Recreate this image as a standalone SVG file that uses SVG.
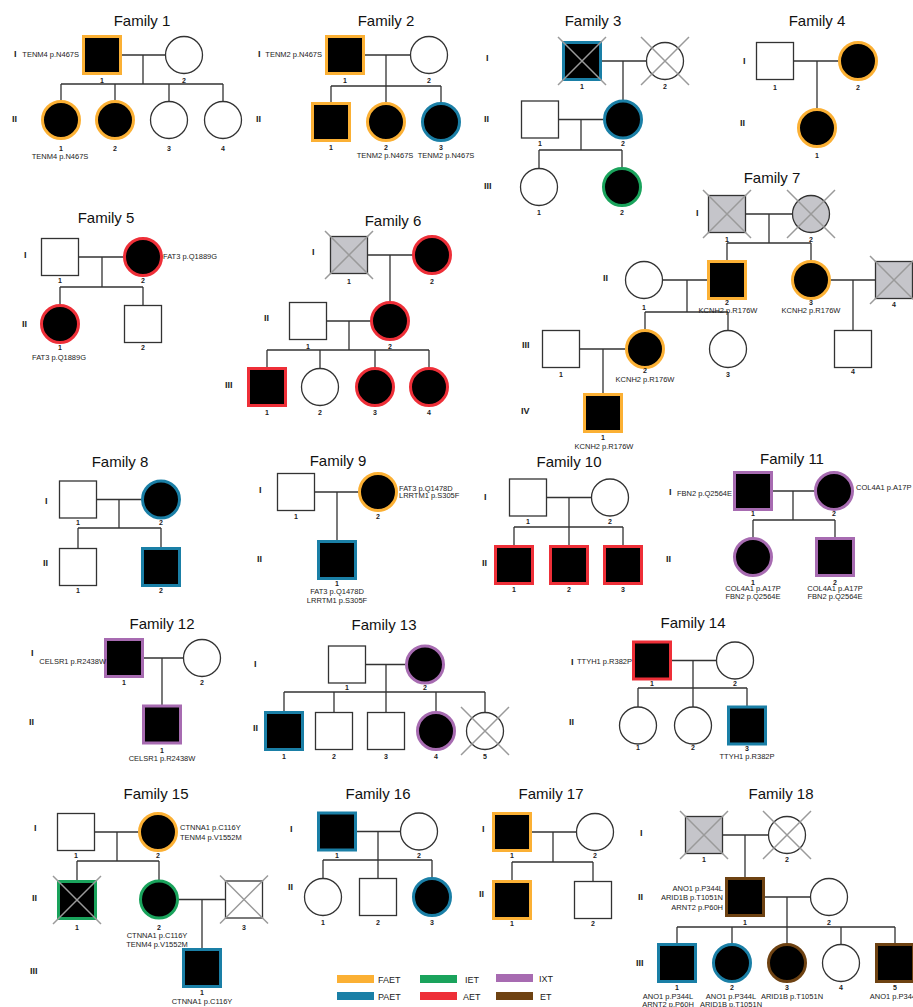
<svg xmlns="http://www.w3.org/2000/svg" xmlns:xlink="http://www.w3.org/1999/xlink" width="913" height="1007" viewBox="0 0 913 1007">
<style>
.ln{fill:none;stroke:#333;stroke-width:1.3}
.u{fill:#fff;stroke:#333;stroke-width:1.3}
.d{fill:#c5c5ca;stroke:#333;stroke-width:1.3}
.a{fill:#000;stroke-width:3}
.faet{stroke:#fbb034}.paet{stroke:#1a7fa6}.iet{stroke:#1aa35c}.aet{stroke:#ee2f38}.ixt{stroke:#a76bb1}.et{stroke:#6e4212}
.xm{stroke:#9a9a9a;stroke-width:1.5;fill:none}
text{font-family:"Liberation Sans",Arial,Helvetica,sans-serif;fill:#222}
.t{font-size:15px;text-anchor:middle;fill:#111}
.g{font-size:9px;font-weight:bold}
.n{font-size:7px;font-weight:bold;text-anchor:middle}
.m{font-size:7.5px}
.c{text-anchor:middle}
.e{text-anchor:end}
.lg{font-size:9px}
</style>
<defs>
<path id="xm" class="xm" d="M-24,-24L24,24M24,-24L-24,24"/>
</defs>
<rect width="913" height="1007" fill="#fff"/>

<!-- titles and generation labels -->
<g id="titles">
<text class="t" x="142" y="26">Family 1</text>
<text class="t" x="386" y="26">Family 2</text>
<text class="t" x="593" y="26">Family 3</text>
<text class="t" x="817" y="26">Family 4</text>
<text class="t" x="106" y="223">Family 5</text>
<text class="t" x="393" y="226">Family 6</text>
<text class="t" x="772" y="183">Family 7</text>
<text class="t" x="120" y="467">Family 8</text>
<text class="t" x="338" y="466">Family 9</text>
<text class="t" x="569" y="467">Family 10</text>
<text class="t" x="792" y="464">Family 11</text>
<text class="t" x="162" y="629">Family 12</text>
<text class="t" x="384" y="630">Family 13</text>
<text class="t" x="693" y="628">Family 14</text>
<text class="t" x="156" y="799">Family 15</text>
<text class="t" x="378" y="799">Family 16</text>
<text class="t" x="551" y="799">Family 17</text>
<text class="t" x="781" y="799">Family 18</text>
</g>
<g id="generations">
<text class="g" x="14" y="57">I</text><text class="g" x="12" y="122">II</text>
<text class="g" x="258" y="57">I</text><text class="g" x="256" y="122">II</text>
<text class="g" x="486" y="61">I</text><text class="g" x="484" y="122">II</text><text class="g" x="484" y="189">III</text>
<text class="g" x="743" y="64">I</text><text class="g" x="740" y="126">II</text>
<text class="g" x="24" y="258">I</text><text class="g" x="22" y="327">II</text>
<text class="g" x="312" y="255">I</text><text class="g" x="264" y="321">II</text><text class="g" x="225" y="388">III</text>
<text class="g" x="696" y="216">I</text><text class="g" x="603" y="281">II</text><text class="g" x="522" y="348">III</text><text class="g" x="521" y="414">IV</text>
<text class="g" x="45" y="504">I</text><text class="g" x="43" y="566">II</text>
<text class="g" x="259" y="493">I</text><text class="g" x="257" y="562">II</text>
<text class="g" x="484" y="500">I</text><text class="g" x="482" y="566">II</text>
<text class="g" x="669" y="495">I</text><text class="g" x="666" y="562">II</text>
<text class="g" x="31" y="656">I</text><text class="g" x="29" y="725">II</text>
<text class="g" x="254" y="667">I</text><text class="g" x="253" y="731">II</text>
<text class="g" x="571" y="665">I</text><text class="g" x="569" y="725">II</text>
<text class="g" x="34" y="831">I</text><text class="g" x="32" y="901">II</text><text class="g" x="30" y="974">III</text>
<text class="g" x="290" y="832">I</text><text class="g" x="288" y="890">II</text>
<text class="g" x="482" y="832">I</text><text class="g" x="479" y="897">II</text>
<text class="g" x="640" y="836">I</text><text class="g" x="638" y="900">II</text><text class="g" x="636" y="966">III</text>
</g>

<!-- connectors: marriage lines, descent lines, sibship lines -->
<g id="connectors" class="ln">
<path d="M121,55H165.5M143,55V84M61,84H223M61,84V101.5M115,84V101.5M169,84V101.5M223,84V101.5"/>
<path d="M363.5,55H410.5M386,55V86M331,86H441M331,86V103.5M386,86V103.5M441,86V103.5"/>
<path d="M600.5,61H646.5M623,61V101M558.5,119.5H604.5M581,119.5V150M539,150H622M539,150V168.5M622,150V168.5"/>
<path d="M793.5,61H839.5M817,61V109.5"/>
<path d="M78.5,257H124.5M102,257V287M60,287H143M60,287V305.5M143,287V305.5"/>
<path d="M367.5,255H413.5M390,255V302.5M326.5,321H371.5M349,321V350M267,350H429M267,350V368.5M320,350V368.5M375,350V368.5M429,350V368.5"/>
<path d="M745.5,214H792.5M769,214V243M727,243H811M727,243V261.5M811,243V261.5M662.5,280H708.5M687,280V312M645,312H728M645,312V330.5M728,312V330.5M829.5,280H875.5M853,280V330.5M579.5,349H626.5M603,349V394.5"/>
<path d="M96.5,499.5H142.5M119,499.5V528M78,528H161M78,528V548.5M161,528V548.5"/>
<path d="M314.5,492H359.5M337,492V541.5"/>
<path d="M546.5,497.5H591.5M569,497.5V527M514,527H623M514,527V546.5M569,527V546.5M623,527V546.5"/>
<path d="M771.5,491H815.5M793,491V520M753,520H835M753,520V538.5M835,520V538.5"/>
<path d="M142.5,658H183.5M162,658V706"/>
<path d="M365.5,664.5H406.5M386,664.5V692M284,692H485M284,692V712.5M334,692V712.5M386,692V712.5M436,692V712.5M485,692V712.5"/>
<path d="M670.5,660.5H716.5M693,660.5V688M638,688H747M638,688V707M693,688V707M747,688V707"/>
<path d="M94.5,832H139.5M117,832V861M77,861H159M77,861V881.5M159,861V880.5M177.5,899.5H225.5M202,899.5V949.5"/>
<path d="M355.5,831.5H400.5M378,831.5V860M323,860H432M323,860V878.5M378,860V878.5M432,860V878.5"/>
<path d="M530.5,832H576.5M553,832V862M512,862H593M512,862V881.5M593,862V881.5"/>
<path d="M722.5,835H768.5M745,835V878.5M763.5,897H810.5M787,897V927M677,927H895M677,927V944.5M732,927V944.5M787,927V944.5M841,927V944.5M895,927V944.5"/>
</g>

<!-- Family 1 -->
<g id="f1-I-1"><rect class="a faet" x="83.5" y="36.5" width="37" height="37"/><text class="n" x="102" y="82.5">1</text><text class="m e" x="79" y="57">TENM4 p.N467S</text></g>
<g id="f1-I-2"><circle class="u" cx="184" cy="55" r="18.5"/><text class="n" x="184" y="82.5">2</text></g>
<g id="f1-II-1"><circle class="a faet" cx="61" cy="120" r="18.5"/><text class="n" x="61" y="150.5">1</text><text class="m c" x="60" y="158.5">TENM4 p.N467S</text></g>
<g id="f1-II-2"><circle class="a faet" cx="115" cy="120" r="18.5"/><text class="n" x="115" y="150.5">2</text></g>
<g id="f1-II-3"><circle class="u" cx="169" cy="120" r="18.5"/><text class="n" x="169" y="150.5">3</text></g>
<g id="f1-II-4"><circle class="u" cx="223" cy="120" r="18.5"/><text class="n" x="223" y="150.5">4</text></g>

<!-- Family 2 -->
<g id="f2-I-1"><rect class="a faet" x="326.5" y="36.5" width="37" height="37"/><text class="n" x="345" y="82.5">1</text><text class="m e" x="322" y="57">TENM2 p.N467S</text></g>
<g id="f2-I-2"><circle class="u" cx="429" cy="55" r="18.5"/><text class="n" x="429" y="82.5">2</text></g>
<g id="f2-II-1"><rect class="a faet" x="312.5" y="103.5" width="37" height="37"/><text class="n" x="331" y="149.5">1</text></g>
<g id="f2-II-2"><circle class="a faet" cx="386" cy="122" r="18.5"/><text class="n" x="386" y="149.5">2</text><text class="m c" x="385" y="157.5">TENM2 p.N467S</text></g>
<g id="f2-II-3"><circle class="a paet" cx="441" cy="122" r="18.5"/><text class="n" x="441" y="149.5">3</text><text class="m c" x="446" y="157.5">TENM2 p.N467S</text></g>

<!-- Family 3 -->
<g id="f3-I-1"><rect class="a paet" x="563.5" y="42.5" width="37" height="37"/><use xlink:href="#xm" x="582" y="61"/><text class="n" x="582" y="88.5">1</text></g>
<g id="f3-I-2"><circle class="u" cx="665" cy="61" r="18.5"/><use xlink:href="#xm" x="665" y="61"/><text class="n" x="665" y="88.5">2</text></g>
<g id="f3-II-1"><rect class="u" x="521.5" y="101" width="37" height="37"/><text class="n" x="540" y="145.5">1</text></g>
<g id="f3-II-2"><circle class="a paet" cx="623" cy="119.5" r="18.5"/><text class="n" x="623" y="145.5">2</text></g>
<g id="f3-III-1"><circle class="u" cx="539" cy="187" r="18.5"/><text class="n" x="539" y="215">1</text></g>
<g id="f3-III-2"><circle class="a iet" cx="622" cy="187" r="18.5"/><text class="n" x="622" y="215">2</text></g>

<!-- Family 4 -->
<g id="f4-I-1"><rect class="u" x="756.5" y="42.5" width="37" height="37"/><text class="n" x="775" y="89.5">1</text></g>
<g id="f4-I-2"><circle class="a faet" cx="858" cy="61" r="18.5"/><text class="n" x="858" y="89.5">2</text></g>
<g id="f4-II-1"><circle class="a faet" cx="817" cy="128" r="18.5"/><text class="n" x="817" y="157.5">1</text></g>

<!-- Family 5 -->
<g id="f5-I-1"><rect class="u" x="41.5" y="238.5" width="37" height="37"/><text class="n" x="60" y="282.5">1</text></g>
<g id="f5-I-2"><circle class="a aet" cx="143" cy="257" r="18.5"/><text class="n" x="143" y="282.5">2</text><text class="m" x="163" y="258.5">FAT3 p.Q1889G</text></g>
<g id="f5-II-1"><circle class="a aet" cx="60" cy="324" r="18.5"/><text class="n" x="60" y="349.5">1</text><text class="m c" x="59" y="359.5">FAT3 p.Q1889G</text></g>
<g id="f5-II-2"><rect class="u" x="124.5" y="305.5" width="37" height="37"/><text class="n" x="143" y="349.5">2</text></g>

<!-- Family 6 -->
<g id="f6-I-1"><rect class="d" x="330.5" y="236.5" width="37" height="37"/><use xlink:href="#xm" x="349" y="255"/><text class="n" x="349" y="283.5">1</text></g>
<g id="f6-I-2"><circle class="a aet" cx="432" cy="255" r="18.5"/><text class="n" x="432" y="283.5">2</text></g>
<g id="f6-II-1"><rect class="u" x="289.5" y="302.5" width="37" height="37"/><text class="n" x="308" y="348.5">1</text></g>
<g id="f6-II-2"><circle class="a aet" cx="390" cy="321" r="18.5"/><text class="n" x="390" y="348.5">2</text></g>
<g id="f6-III-1"><rect class="a aet" x="248.5" y="368.5" width="37" height="37"/><text class="n" x="267" y="414.5">1</text></g>
<g id="f6-III-2"><circle class="u" cx="320" cy="387" r="18.5"/><text class="n" x="320" y="414.5">2</text></g>
<g id="f6-III-3"><circle class="a aet" cx="375" cy="387" r="18.5"/><text class="n" x="375" y="414.5">3</text></g>
<g id="f6-III-4"><circle class="a aet" cx="429" cy="387" r="18.5"/><text class="n" x="429" y="414.5">4</text></g>

<!-- Family 7 -->
<g id="f7-I-1"><rect class="d" x="708.5" y="195.5" width="37" height="37"/><use xlink:href="#xm" x="727" y="214"/><text class="n" x="727" y="241.5">1</text></g>
<g id="f7-I-2"><circle class="d" cx="811" cy="214" r="18.5"/><use xlink:href="#xm" x="811" y="214"/><text class="n" x="811" y="241.5">2</text></g>
<g id="f7-II-1"><circle class="u" cx="644" cy="280" r="18.5"/><text class="n" x="644" y="309.5">1</text></g>
<g id="f7-II-2"><rect class="a faet" x="708.5" y="261.5" width="37" height="37"/><text class="n" x="727" y="305">2</text><text class="m c" x="728" y="312.5">KCNH2 p.R176W</text></g>
<g id="f7-II-3"><circle class="a faet" cx="811" cy="280" r="18.5"/><text class="n" x="811" y="305">3</text><text class="m c" x="811" y="312.5">KCNH2 p.R176W</text></g>
<g id="f7-II-4"><rect class="d" x="875.5" y="261.5" width="37" height="37"/><use xlink:href="#xm" x="894" y="280"/><text class="n" x="894" y="306.5">4</text></g>
<g id="f7-III-1"><rect class="u" x="542.5" y="330.5" width="37" height="37"/><text class="n" x="561" y="376.5">1</text></g>
<g id="f7-III-2"><circle class="a faet" cx="645" cy="349" r="18.5"/><text class="n" x="645" y="372.5">2</text><text class="m c" x="645" y="381.5">KCNH2 p.R176W</text></g>
<g id="f7-III-3"><circle class="u" cx="728" cy="349" r="18.5"/><text class="n" x="728" y="376.5">3</text></g>
<g id="f7-III-4"><rect class="u" x="834.5" y="330.5" width="37" height="37"/><text class="n" x="853" y="373.5">4</text></g>
<g id="f7-IV-1"><rect class="a faet" x="584.5" y="394.5" width="37" height="37"/><text class="n" x="603" y="439.5">1</text><text class="m c" x="604" y="448.5">KCNH2 p.R176W</text></g>

<!-- Family 8 -->
<g id="f8-I-1"><rect class="u" x="59.5" y="481" width="37" height="37"/><text class="n" x="78" y="524.5">1</text></g>
<g id="f8-I-2"><circle class="a paet" cx="161" cy="499.5" r="18.5"/><text class="n" x="161" y="524.5">2</text></g>
<g id="f8-II-1"><rect class="u" x="59.5" y="548.5" width="37" height="37"/><text class="n" x="78" y="592.5">1</text></g>
<g id="f8-II-2"><rect class="a paet" x="142.5" y="548.5" width="37" height="37"/><text class="n" x="161" y="592.5">2</text></g>

<!-- Family 9 -->
<g id="f9-I-1"><rect class="u" x="277.5" y="473.5" width="37" height="37"/><text class="n" x="296" y="518.5">1</text></g>
<g id="f9-I-2"><circle class="a faet" cx="378" cy="492" r="18.5"/><text class="n" x="378" y="518.5">2</text><text class="m" x="399" y="490.5">FAT3 p.Q1478D</text><text class="m" x="399" y="498">LRRTM1 p.S305F</text></g>
<g id="f9-II-1"><rect class="a paet" x="318.5" y="541.5" width="37" height="37"/><text class="n" x="337" y="585.5">1</text><text class="m c" x="337" y="593.5">FAT3 p.Q1478D</text><text class="m c" x="337" y="602.5">LRRTM1 p.S305F</text></g>

<!-- Family 10 -->
<g id="f10-I-1"><rect class="u" x="509.5" y="479" width="37" height="37"/><text class="n" x="528" y="523.5">1</text></g>
<g id="f10-I-2"><circle class="u" cx="610" cy="497.5" r="18.5"/><text class="n" x="610" y="523.5">2</text></g>
<g id="f10-II-1"><rect class="a aet" x="495.5" y="546.5" width="37" height="37"/><text class="n" x="514" y="591.5">1</text></g>
<g id="f10-II-2"><rect class="a aet" x="550.5" y="546.5" width="37" height="37"/><text class="n" x="569" y="591.5">2</text></g>
<g id="f10-II-3"><rect class="a aet" x="604.5" y="546.5" width="37" height="37"/><text class="n" x="623" y="591.5">3</text></g>

<!-- Family 11 -->
<g id="f11-I-1"><rect class="a ixt" x="734.5" y="472.5" width="37" height="37"/><text class="n" x="753" y="515.5">1</text><text class="m e" x="732" y="495.5">FBN2 p.Q2564E</text></g>
<g id="f11-I-2"><circle class="a ixt" cx="834" cy="491" r="18.5"/><text class="n" x="834" y="515.5">2</text><text class="m" x="856" y="489.5">COL4A1 p.A17P</text></g>
<g id="f11-II-1"><circle class="a ixt" cx="753" cy="557" r="18.5"/><text class="n" x="753" y="584.5">1</text><text class="m c" x="753" y="590.5">COL4A1 p.A17P</text><text class="m c" x="753" y="598.5">FBN2 p.Q2564E</text></g>
<g id="f11-II-2"><rect class="a ixt" x="816.5" y="538.5" width="37" height="37"/><text class="n" x="835" y="584.5">2</text><text class="m c" x="835" y="590.5">COL4A1 p.A17P</text><text class="m c" x="835" y="598.5">FBN2 p.Q2564E</text></g>

<!-- Family 12 -->
<g id="f12-I-1"><rect class="a ixt" x="105.5" y="639.5" width="37" height="37"/><text class="n" x="124" y="684.5">1</text><text class="m e" x="106" y="663.5">CELSR1 p.R2438W</text></g>
<g id="f12-I-2"><circle class="u" cx="202" cy="658" r="18.5"/><text class="n" x="202" y="684.5">2</text></g>
<g id="f12-II-1"><rect class="a ixt" x="143.5" y="706" width="37" height="37"/><text class="n" x="162" y="752.5">1</text><text class="m c" x="162" y="760.5">CELSR1 p.R2438W</text></g>

<!-- Family 13 -->
<g id="f13-I-1"><rect class="u" x="328.5" y="646" width="37" height="37"/><text class="n" x="347" y="689.5">1</text></g>
<g id="f13-I-2"><circle class="a ixt" cx="425" cy="664.5" r="18.5"/><text class="n" x="425" y="689.5">2</text></g>
<g id="f13-II-1"><rect class="a paet" x="265.5" y="712.5" width="37" height="37"/><text class="n" x="284" y="758.5">1</text></g>
<g id="f13-II-2"><rect class="u" x="315.5" y="712.5" width="37" height="37"/><text class="n" x="334" y="758.5">2</text></g>
<g id="f13-II-3"><rect class="u" x="367.5" y="712.5" width="37" height="37"/><text class="n" x="386" y="758.5">3</text></g>
<g id="f13-II-4"><circle class="a ixt" cx="436" cy="731" r="18.5"/><text class="n" x="436" y="758.5">4</text></g>
<g id="f13-II-5"><circle class="u" cx="485" cy="731" r="18.5"/><use xlink:href="#xm" x="485" y="731"/><text class="n" x="485" y="758.5">5</text></g>

<!-- Family 14 -->
<g id="f14-I-1"><rect class="a aet" x="633.5" y="642" width="37" height="37"/><text class="n" x="652" y="685.5">1</text><text class="m e" x="632" y="663.5">TTYH1 p.R382P</text></g>
<g id="f14-I-2"><circle class="u" cx="735" cy="660.5" r="18.5"/><text class="n" x="735" y="685.5">2</text></g>
<g id="f14-II-1"><circle class="u" cx="638" cy="725.5" r="18.5"/><text class="n" x="638" y="749.5">1</text></g>
<g id="f14-II-2"><circle class="u" cx="693" cy="725.5" r="18.5"/><text class="n" x="693" y="749.5">2</text></g>
<g id="f14-II-3"><rect class="a paet" x="728.5" y="707" width="37" height="37"/><text class="n" x="747" y="751">3</text><text class="m c" x="747" y="758.5">TTYH1 p.R382P</text></g>

<!-- Family 15 -->
<g id="f15-I-1"><rect class="u" x="57.5" y="813.5" width="37" height="37"/><text class="n" x="76" y="857.5">1</text></g>
<g id="f15-I-2"><circle class="a faet" cx="158" cy="832" r="18.5"/><text class="n" x="158" y="857.5">2</text><text class="m" x="180" y="829.5">CTNNA1 p.C116Y</text><text class="m" x="180" y="839.5">TENM4 p.V1552M</text></g>
<g id="f15-II-1"><rect class="a iet" x="58.5" y="881.5" width="37" height="37"/><use xlink:href="#xm" x="77" y="900"/><text class="n" x="77" y="929.5">1</text></g>
<g id="f15-II-2"><circle class="a iet" cx="159" cy="899.5" r="18.5"/><text class="n" x="159" y="929.5">2</text><text class="m c" x="157" y="937.5">CTNNA1 p.C116Y</text><text class="m c" x="157" y="946.5">TENM4 p.V1552M</text></g>
<g id="f15-II-3"><rect class="u" x="225.5" y="881" width="37" height="37"/><use xlink:href="#xm" x="244" y="899.5"/><text class="n" x="244" y="929.5">3</text></g>
<g id="f15-III-1"><rect class="a paet" x="183.5" y="949.5" width="37" height="37"/><text class="n" x="202" y="994.5">1</text><text class="m c" x="202" y="1003.5">CTNNA1 p.C116Y</text></g>

<!-- Family 16 -->
<g id="f16-I-1"><rect class="a paet" x="318.5" y="813" width="37" height="37"/><text class="n" x="337" y="857.5">1</text></g>
<g id="f16-I-2"><circle class="u" cx="419" cy="831.5" r="18.5"/><text class="n" x="419" y="857.5">2</text></g>
<g id="f16-II-1"><circle class="u" cx="323" cy="897" r="18.5"/><text class="n" x="323" y="925">1</text></g>
<g id="f16-II-2"><rect class="u" x="359.5" y="878.5" width="37" height="37"/><text class="n" x="378" y="925">2</text></g>
<g id="f16-II-3"><circle class="a paet" cx="432" cy="897" r="18.5"/><text class="n" x="432" y="925">3</text></g>

<!-- Family 17 -->
<g id="f17-I-1"><rect class="a faet" x="493.5" y="813.5" width="37" height="37"/><text class="n" x="512" y="857.5">1</text></g>
<g id="f17-I-2"><circle class="u" cx="595" cy="832" r="18.5"/><text class="n" x="595" y="857.5">2</text></g>
<g id="f17-II-1"><rect class="a faet" x="493.5" y="881.5" width="37" height="37"/><text class="n" x="512" y="925.5">1</text></g>
<g id="f17-II-2"><rect class="u" x="574.5" y="881.5" width="37" height="37"/><text class="n" x="593" y="925.5">2</text></g>

<!-- Family 18 -->
<g id="f18-I-1"><rect class="d" x="685.5" y="816.5" width="37" height="37"/><use xlink:href="#xm" x="704" y="835"/><text class="n" x="704" y="861.5">1</text></g>
<g id="f18-I-2"><circle class="u" cx="787" cy="835" r="18.5"/><use xlink:href="#xm" x="787" y="835"/><text class="n" x="787" y="861.5">2</text></g>
<g id="f18-II-1"><rect class="a et" x="726.5" y="878.5" width="37" height="37"/><text class="n" x="745" y="924.5">1</text><text class="m e" x="723" y="890.5">ANO1 p.P344L</text><text class="m e" x="723" y="900">ARID1B p.T1051N</text><text class="m e" x="723" y="909.5">ARNT2 p.P60H</text></g>
<g id="f18-II-2"><circle class="u" cx="829" cy="897" r="18.5"/><text class="n" x="829" y="924.5">2</text></g>
<g id="f18-III-1"><rect class="a paet" x="658.5" y="944.5" width="37" height="37"/><text class="n" x="677" y="989.5">1</text><text class="m c" x="668" y="998.5">ANO1 p.P344L</text><text class="m c" x="668" y="1006.5">ARNT2 p.P60H</text></g>
<g id="f18-III-2"><circle class="a paet" cx="732" cy="963" r="18.5"/><text class="n" x="732" y="989.5">2</text><text class="m c" x="731" y="998.5">ANO1 p.P344L</text><text class="m c" x="731" y="1006.5">ARID1B p.T1051N</text></g>
<g id="f18-III-3"><circle class="a et" cx="787" cy="963" r="18.5"/><text class="n" x="787" y="989.5">3</text><text class="m c" x="792" y="998.5">ARID1B p.T1051N</text></g>
<g id="f18-III-4"><circle class="u" cx="841" cy="963" r="18.5"/><text class="n" x="841" y="989.5">4</text></g>
<g id="f18-III-5"><rect class="a et" x="876.5" y="944.5" width="37" height="37"/><text class="n" x="895" y="989.5">5</text><text class="m c" x="895" y="998.5">ANO1 p.P344L</text></g>

<!-- legend -->
<g id="legend">
<rect x="337" y="975" width="37" height="8" fill="#fbb034"/><text class="lg" x="378" y="982.5">FAET</text>
<rect x="337" y="992" width="37" height="8" fill="#1a7fa6"/><text class="lg" x="378" y="999.5">PAET</text>
<rect x="420" y="975" width="37" height="8" fill="#1aa35c"/><text class="lg" x="465" y="982.5">IET</text>
<rect x="420" y="992" width="37" height="8" fill="#ee2f38"/><text class="lg" x="463" y="999.5">AET</text>
<rect x="496" y="974" width="37" height="8" fill="#a76bb1"/><text class="lg" x="539" y="981.5">IXT</text>
<rect x="496" y="992" width="37" height="8" fill="#6e4212"/><text class="lg" x="540" y="999.5">ET</text>
</g>
</svg>
